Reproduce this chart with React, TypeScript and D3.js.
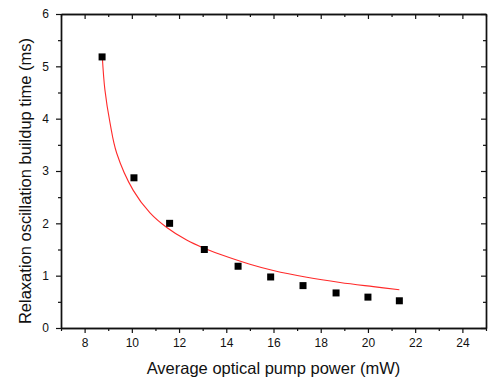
import React, { useEffect, useRef } from 'react';
import * as d3 from 'd3';

// measured points (pump power in mW, buildup time in ms)
const powerMW = [8.74, 10.09, 11.6, 13.07, 14.5, 15.88, 17.25, 18.65, 20.0, 21.33];
const buildupMs = [5.18, 2.87, 2.0, 1.5, 1.18, 0.975, 0.81, 0.67, 0.59, 0.52];

// fitted curve
const fitX = [8.75, 8.86, 9.08, 9.36, 10.06, 10.77, 11.48, 12.32, 13.03, 13.73, 15.0, 15.99, 17.41, 18.82, 20.23, 21.33];
const fitY = [5.18, 4.55, 3.91, 3.34, 2.63, 2.2, 1.92, 1.68, 1.53, 1.41, 1.22, 1.1, 0.97, 0.87, 0.79, 0.73];

const xMajor = [8, 10, 12, 14, 16, 18, 20, 22, 24];
const xMinor = [7, 9, 11, 13, 15, 17, 19, 21, 23, 25];
const yMajor = [0, 1, 2, 3, 4, 5, 6];
const yMinor = [0.5, 1.5, 2.5, 3.5, 4.5, 5.5];

const xTitle = 'Average optical pump power (mW)';
const yTitle = 'Relaxation oscillation buildup time (ms)';

export default function App() {
    const ref = useRef<SVGSVGElement>(null);

    useEffect(() => {
        const width = 489;
        const height = 377;
        const margin = { top: 14, right: 3, bottom: 49, left: 61 };
        const w = width - margin.left - margin.right;
        const h = height - margin.top - margin.bottom;

        const root = d3.select(ref.current);
        root.selectAll('*').remove();

        const svg = root.append('g').attr('transform', 'translate(' + margin.left + ',' + margin.top + ')');

        const x = d3.scaleLinear().domain([7, 25]).range([0, w]);
        const y = d3.scaleLinear().domain([0, 6]).range([h, 0]);
        const font = 'Arial, "Liberation Sans", sans-serif';
        const blank = () => '';

        const styleAxis = (g: any) => {
            g.selectAll('path').attr('stroke', '#111').attr('stroke-width', 1.4);
            g.selectAll('line').attr('stroke', '#111').attr('stroke-width', 1.2);
            g.selectAll('text').attr('font-family', font).attr('font-size', 12).attr('fill', '#111');
        };

        // bottom
        svg.append('g')
            .attr('transform', 'translate(0,' + h + ')')
            .call(d3.axisBottom(x).tickValues(xMinor).tickSize(3).tickFormat(blank).tickSizeOuter(0))
            .call(styleAxis);
        svg.append('g')
            .attr('transform', 'translate(0,' + h + ')')
            .call(d3.axisBottom(x).tickValues(xMajor).tickSize(5).tickPadding(5).tickFormat(d3.format('d')).tickSizeOuter(0))
            .call(styleAxis);
        // top (inward)
        svg.append('g')
            .call(d3.axisTop(x).tickValues(xMinor).tickSize(-3).tickFormat(blank).tickSizeOuter(0))
            .call(styleAxis);
        svg.append('g')
            .call(d3.axisTop(x).tickValues(xMajor).tickSize(-5).tickFormat(blank).tickSizeOuter(0))
            .call(styleAxis);
        // left
        svg.append('g')
            .call(d3.axisLeft(y).tickValues(yMinor).tickSize(3).tickFormat(blank).tickSizeOuter(0))
            .call(styleAxis);
        svg.append('g')
            .call(d3.axisLeft(y).tickValues(yMajor).tickSize(5).tickPadding(7).tickFormat(d3.format('d')).tickSizeOuter(0))
            .call(styleAxis);
        // right (inward)
        svg.append('g')
            .attr('transform', 'translate(' + w + ',0)')
            .call(d3.axisRight(y).tickValues(yMinor).tickSize(-3).tickFormat(blank).tickSizeOuter(0))
            .call(styleAxis);
        svg.append('g')
            .attr('transform', 'translate(' + w + ',0)')
            .call(d3.axisRight(y).tickValues(yMajor).tickSize(-5).tickFormat(blank).tickSizeOuter(0))
            .call(styleAxis);

        // fit line
        const line = d3
            .line<number>()
            .x((d) => x(d))
            .y((_, i) => y(fitY[i]))
            .curve(d3.curveCatmullRom.alpha(0.5));
        svg.append('path')
            .attr('d', line(fitX))
            .attr('fill', 'none')
            .attr('stroke', '#ff2a2a')
            .attr('stroke-width', 1.1);

        // squares
        const s = 7;
        svg.selectAll('rect.pt')
            .data(powerMW)
            .enter()
            .append('rect')
            .attr('class', 'pt')
            .attr('x', (d) => x(d) - s / 2)
            .attr('y', (_, i) => y(buildupMs[i]) - s / 2)
            .attr('width', s)
            .attr('height', s)
            .attr('fill', '#000');

        // titles
        svg.append('text')
            .attr('x', w / 2)
            .attr('y', h + 46)
            .attr('text-anchor', 'middle')
            .attr('font-family', font)
            .attr('font-size', 16.5)
            .attr('fill', '#111')
            .text(xTitle);
        svg.append('text')
            .attr('transform', 'translate(' + (31 - margin.left) + ',' + (181 - margin.top) + ') rotate(-90)')
            .attr('text-anchor', 'middle')
            .attr('font-family', font)
            .attr('font-size', 16.5)
            .attr('fill', '#111')
            .text(yTitle);
    }, []);

    return (
        <svg
            ref={ref}
            width={489}
            height={377}
            style={{ position: 'absolute', left: 0, top: 0, background: '#fff' }}
        />
    );
}
